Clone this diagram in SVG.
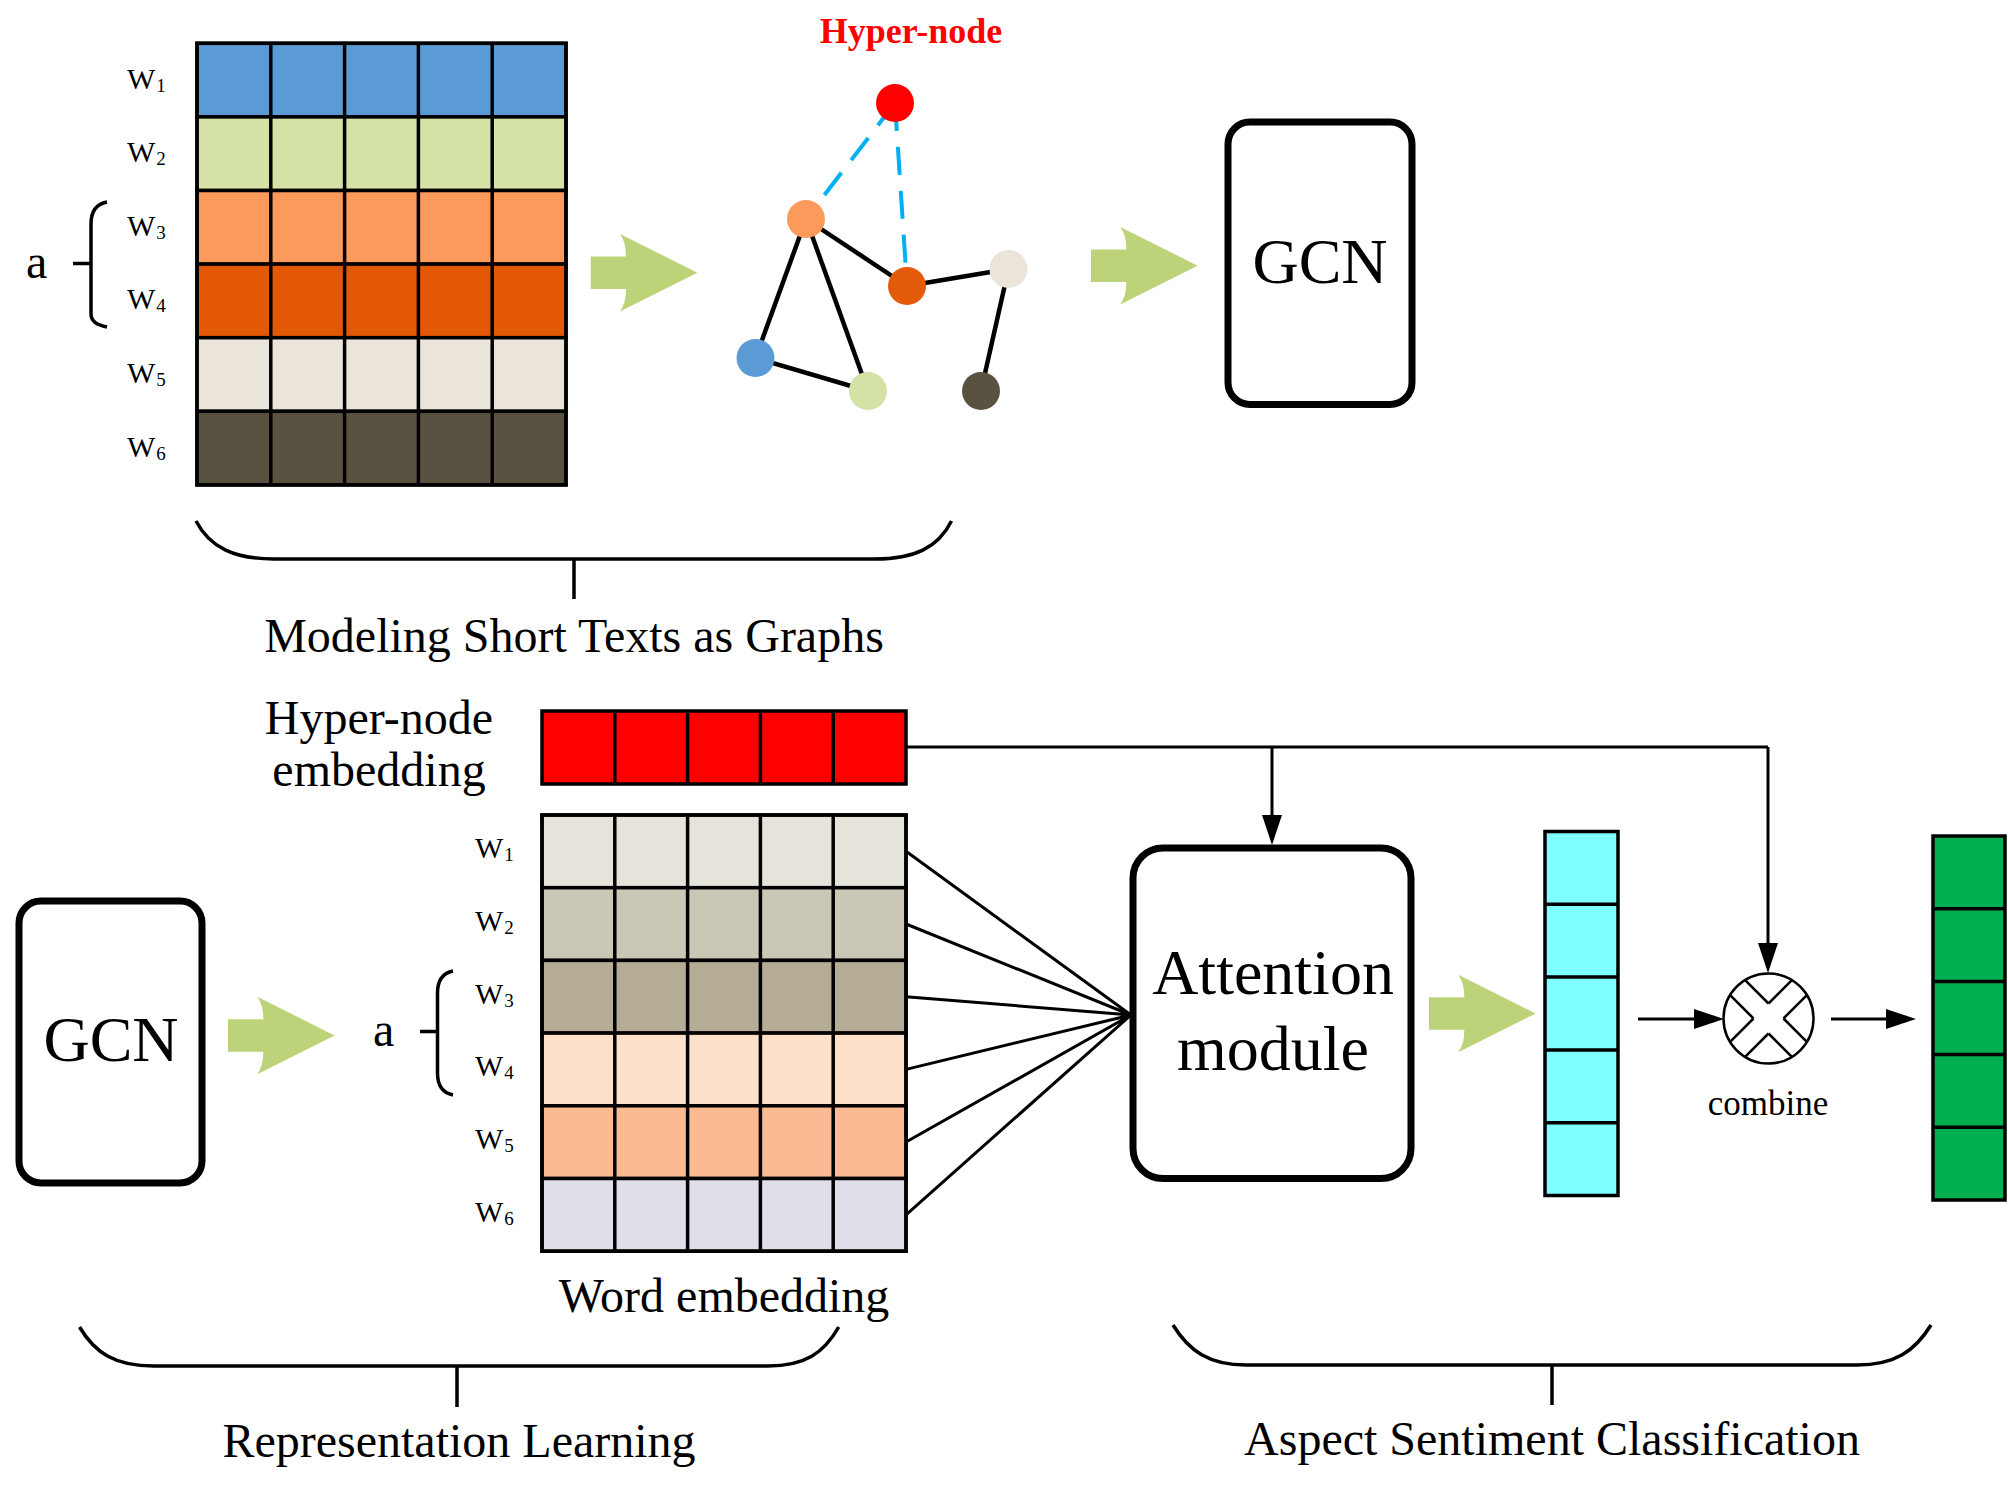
<svg xmlns="http://www.w3.org/2000/svg" width="2008" height="1494" viewBox="0 0 2008 1494">
<style>
text{font-family:"Liberation Serif","Times New Roman",serif;fill:#000}
.lbl{font-size:30px}
.sub{font-size:19px}
.t48{font-size:48px}
.big{font-size:64px}
.row{stroke:#000;stroke-width:3.5}
.grid{stroke:#000;stroke-width:3.5;fill:none}
.box{fill:#fff;stroke:#000;stroke-width:7}
.br{fill:none;stroke:#000;stroke-width:3.5}
.edge{stroke:#000;stroke-width:4.5;fill:none}
.dash{stroke:#00B0F0;stroke-width:4;stroke-dasharray:28 16;fill:none}
.conn{stroke:#000;stroke-width:3;fill:none}
.garrow{fill:#BDD37A}
</style>
<defs>
<path id="fat" d="M0,-16.2 L35.3,-16.2 Q35.5,-30 29.3,-38.8 L106.6,0 L29.3,38.8 Q35.5,30 35.3,16.2 L0,16.2 Z"/>
<marker id="ah" viewBox="0 0 30 20" markerWidth="30" markerHeight="20" refX="2" refY="10" orient="auto" markerUnits="userSpaceOnUse">
<path d="M0,0 L30,10 L0,20 Z" fill="#000"/>
</marker>
<clipPath id="cc"><circle cx="1768.5" cy="1018.5" r="45"/></clipPath>
</defs>
<rect width="2008" height="1494" fill="#fff"/>

<g id="matrix-top">
<rect class="row" x="197" y="43.3" width="369" height="73.6" fill="#5B9BD5"/>
<rect class="row" x="197" y="116.9" width="369" height="73.6" fill="#D5E2A5"/>
<rect class="row" x="197" y="190.5" width="369" height="73.6" fill="#FB9A5A"/>
<rect class="row" x="197" y="264.1" width="369" height="73.6" fill="#E35805"/>
<rect class="row" x="197" y="337.7" width="369" height="73.6" fill="#EAE4DA"/>
<rect class="row" x="197" y="411.3" width="369" height="73.6" fill="#5A5241"/>
<path class="grid" d="M270.8,43.3V484.9M344.6,43.3V484.9M418.4,43.3V484.9M492.2,43.3V484.9"/>
<rect class="grid" x="197" y="43.3" width="369" height="441.6"/>
<text class="lbl" x="127" y="88.6">W<tspan class="sub" dx="1" dy="3">1</tspan></text>
<text class="lbl" x="127" y="162.2">W<tspan class="sub" dx="1" dy="3">2</tspan></text>
<text class="lbl" x="127" y="235.8">W<tspan class="sub" dx="1" dy="3">3</tspan></text>
<text class="lbl" x="127" y="309.4">W<tspan class="sub" dx="1" dy="3">4</tspan></text>
<text class="lbl" x="127" y="383">W<tspan class="sub" dx="1" dy="3">5</tspan></text>
<text class="lbl" x="127" y="456.6">W<tspan class="sub" dx="1" dy="3">6</tspan></text>
<text class="t48" x="26" y="278">a</text>
<path class="br" d="M107,202 C96,204 91,211 91,224 L91,314 C91,321 96,325 107,327 M73,263.5 L91,263.5"/>
</g>

<g id="graph">
<g id="graph-edges">
<line class="dash" x1="895" y1="103" x2="806" y2="219"/>
<line class="dash" x1="895" y1="103" x2="907" y2="286"/>
<line class="edge" x1="806" y1="219" x2="907" y2="286"/>
<line class="edge" x1="806" y1="219" x2="755.5" y2="358"/>
<line class="edge" x1="806" y1="219" x2="868" y2="391"/>
<line class="edge" x1="755.5" y1="358" x2="868" y2="391"/>
<line class="edge" x1="907" y1="286" x2="1008.5" y2="269"/>
<line class="edge" x1="1008.5" y1="269" x2="981" y2="391"/>
</g>
<circle cx="895" cy="103" r="19" fill="#FF0000"/>
<circle cx="806" cy="219" r="19" fill="#FB9A5A"/>
<circle cx="907" cy="286" r="19" fill="#E35B0A"/>
<circle cx="1008.5" cy="269" r="19" fill="#EAE4DA"/>
<circle cx="755.5" cy="358" r="19" fill="#5B9BD5"/>
<circle cx="868" cy="391" r="19" fill="#D5E2A5"/>
<circle cx="981" cy="391" r="19" fill="#5A5241"/>
<text x="911" y="43" text-anchor="middle" font-size="36" font-weight="bold" style="fill:#FF0000">Hyper-node</text>
</g>

<g id="gcn-top">
<rect class="box" x="1228" y="122" width="184" height="282.5" rx="22"/>
<text class="big" x="1320" y="283" text-anchor="middle">GCN</text>
</g>

<g id="brace-modeling">
<path class="br" d="M196,521 C210,548 235,559 274,559 L875,559 C914,559 938,548 951.5,521 M574,559 L574,599"/>
<text class="t48" x="574" y="652" text-anchor="middle">Modeling Short Texts as Graphs</text>
</g>

<g id="hyper-embedding">
<text class="t48" x="379" y="734" text-anchor="middle">Hyper-node</text>
<text class="t48" x="379" y="786" text-anchor="middle">embedding</text>
<rect class="row" x="542" y="711" width="364" height="73" fill="#FF0000"/>
<path class="grid" d="M614.8,711V784M687.6,711V784M760.4,711V784M833.2,711V784"/>
</g>

<g id="gcn-bottom">
<rect class="box" x="19" y="901" width="183" height="282" rx="22"/>
<text class="big" x="111" y="1061" text-anchor="middle">GCN</text>
</g>

<g id="word-embedding">
<rect class="row" x="542" y="815" width="364" height="72.7" fill="#E6E3DB"/>
<rect class="row" x="542" y="887.7" width="364" height="72.7" fill="#CAC7B6"/>
<rect class="row" x="542" y="960.4" width="364" height="72.7" fill="#B4AC95"/>
<rect class="row" x="542" y="1033.1" width="364" height="72.7" fill="#FDE0C9"/>
<rect class="row" x="542" y="1105.8" width="364" height="72.7" fill="#FCBA92"/>
<rect class="row" x="542" y="1178.5" width="364" height="72.7" fill="#DFDEE9"/>
<path class="grid" d="M614.8,815V1251.2M687.6,815V1251.2M760.4,815V1251.2M833.2,815V1251.2"/>
<rect class="grid" x="542" y="815" width="364" height="436.2"/>
<text class="lbl" x="475" y="858.3">W<tspan class="sub" dx="1" dy="3">1</tspan></text>
<text class="lbl" x="475" y="931">W<tspan class="sub" dx="1" dy="3">2</tspan></text>
<text class="lbl" x="475" y="1003.7">W<tspan class="sub" dx="1" dy="3">3</tspan></text>
<text class="lbl" x="475" y="1076.4">W<tspan class="sub" dx="1" dy="3">4</tspan></text>
<text class="lbl" x="475" y="1149">W<tspan class="sub" dx="1" dy="3">5</tspan></text>
<text class="lbl" x="475" y="1221.8">W<tspan class="sub" dx="1" dy="3">6</tspan></text>
<text class="t48" x="373" y="1046">a</text>
<path class="br" d="M453,971 C443,973 437.5,980 437.5,993 L437.5,1073 C437.5,1086 443,1093 453,1095 M420,1031.5 L437.5,1031.5"/>
<text class="t48" x="724" y="1312" text-anchor="middle">Word embedding</text>
</g>

<g id="attention">
<rect class="box" x="1133" y="848" width="278" height="330.5" rx="30"/>
<text class="big" x="1273" y="993.6" text-anchor="middle">Attention</text>
<text class="big" x="1273" y="1069.6" text-anchor="middle">module</text>
</g>

<g id="cyan-vector">
<rect class="row" x="1545" y="831.5" width="73" height="364" fill="#7FFFFF"/>
<path class="grid" d="M1545,904.3H1618M1545,977.1H1618M1545,1049.9H1618M1545,1122.7H1618"/>
</g>

<g id="combine">
<circle cx="1768.5" cy="1018.5" r="45" fill="#fff" stroke="#000" stroke-width="2.5"/>
<path clip-path="url(#cc)" fill="none" stroke="#000" stroke-width="2.5" d="M1768.5,1003.5 l-60,-60 M1768.5,1003.5 l60,-60 M1768.5,1033.5 l-60,60 M1768.5,1033.5 l60,60 M1753.5,1018.5 l-60,-60 M1753.5,1018.5 l-60,60 M1783.5,1018.5 l60,-60 M1783.5,1018.5 l60,60"/>
<text x="1768" y="1115" text-anchor="middle" font-size="35">combine</text>
</g>

<g id="green-vector">
<rect class="row" x="1933" y="836" width="72" height="364" fill="#00B050"/>
<path class="grid" d="M1933,908.8H2005M1933,981.6H2005M1933,1054.4H2005M1933,1127.2H2005"/>
</g>

<g id="brace-bottom">
<path class="br" d="M79.5,1327 C95,1353 115,1366 153.6,1366 L768,1366 C805,1366 824,1353 838.7,1327 M457,1366 L457,1407"/>
<text class="t48" x="459" y="1457" text-anchor="middle">Representation Learning</text>
<path class="br" d="M1173,1325 C1189,1351 1209,1365 1246,1365 L1857,1365 C1895,1365 1915,1351 1931,1325 M1552,1365 L1552,1405"/>
<text class="t48" x="1552" y="1455" text-anchor="middle">Aspect Sentiment Classification</text>
</g>

<g id="connectors">
<use href="#fat" class="garrow" transform="translate(590.7,272.7)"/>
<use href="#fat" class="garrow" transform="translate(1091,265.7)"/>
<use href="#fat" class="garrow" transform="translate(228,1035.5)"/>
<use href="#fat" class="garrow" transform="translate(1429,1013.5)"/>
<path class="conn" d="M906,747 H1768"/>
<path class="conn" d="M1272,747 V817" marker-end="url(#ah)"/>
<path class="conn" d="M1768,747 V945" marker-end="url(#ah)"/>
<path class="conn" d="M1638,1019 H1696" marker-end="url(#ah)"/>
<path class="conn" d="M1831,1019 H1888" marker-end="url(#ah)"/>
<path class="conn" d="M906,851.3 L1131,1015 M906,924 L1131,1015 M906,996.7 L1131,1015 M906,1069.4 L1131,1015 M906,1142 L1131,1015 M906,1214.8 L1131,1015"/>
</g>
</svg>
